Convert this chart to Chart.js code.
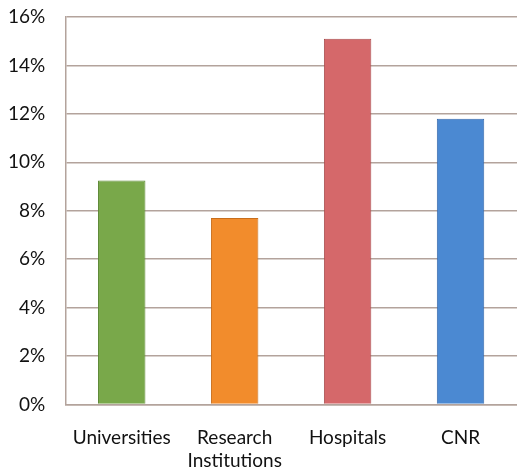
<!DOCTYPE html>
<html>
<head>
<meta charset="utf-8">
<script src="https://cdn.jsdelivr.net/npm/chart.js@4/dist/chart.umd.min.js"></script>
<style>
  html, body { margin:0; padding:0; background:#fff; }
  #wrap { width:517px; height:474px; }
</style>
</head>
<body>
<div id="wrap"><canvas id="chart" width="517" height="474"></canvas></div>
<script>
// data (percent)
const categories = ['Universities', ['Research', 'Institutions'], 'Hospitals', 'CNR'];
const shares     = [9.25, 7.7, 15.1, 11.8];
const barColors  = ['#79a84a', '#f28c2c', '#d5686a', '#4b89d2'];
const barEdges   = ['#5e8a36', '#c86e1c', '#a84c4e', '#3468aa'];

const GRID = '#b3a39c';
const FONT = { family: 'Lato, "Open Sans", sans-serif', size: 19 };

new Chart(document.getElementById('chart'), {
  type: 'bar',
  data: {
    labels: categories,
    datasets: [{
      data: shares,
      backgroundColor: barColors,
      borderColor: barEdges,
      borderWidth: 1,
      categoryPercentage: 1,
      barPercentage: 0.42,
    }],
  },
  options: {
    responsive: false,
    animation: false,
    layout: { padding: { top: 17, right: 0, left: 8, bottom: -20 } },
    plugins: { legend: { display: false }, tooltip: { enabled: false } },
    scales: {
      x: {
        grid: { display: false, drawTicks: false },
        border: { color: GRID, width: 1.5 },
        ticks: {
          color: '#111', padding: 22, font: FONT,
          maxRotation: 0, autoSkip: false,
        },
      },
      y: {
        min: 0, max: 16,
        // invisible tick marks keep the label gap without padding the top
        grid: { color: GRID, lineWidth: 1.5, drawTicks: true, tickLength: 20, tickColor: 'rgba(0,0,0,0)' },
        border: { color: GRID, width: 1.5 },
        ticks: {
          stepSize: 2, padding: 0, color: '#111', font: FONT,
          callback: v => v + '%',
        },
      },
    },
  },
});
</script>
</body>
</html>
